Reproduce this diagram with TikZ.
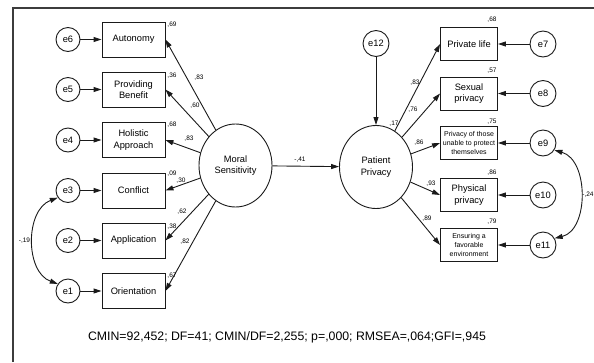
\documentclass[tikz,border=0pt]{standalone}
\usepackage{fontspec}
\setmainfont{Liberation Sans}
\usetikzlibrary{shapes.geometric,arrows.meta}
\definecolor{inkdark}{HTML}{1A1A1A}
\definecolor{framegray}{HTML}{3C3C3C}

\begin{document}
\begin{tikzpicture}[x=1pt,y=-1pt,
  obs/.style={draw=inkdark,line width=0.9pt,minimum width=63pt,minimum height=35pt,inner sep=1pt,align=center,font=\fontsize{9.3}{11.5}\selectfont},
  obsr/.style={obs,minimum width=57pt,minimum height=33pt},
  smalltxt/.style={font=\fontsize{7}{8.8}\selectfont},
  err/.style={draw=inkdark,line width=0.9pt,circle,minimum size=24pt,inner sep=0pt,font=\fontsize{9.3}{11}\selectfont},
  lat/.style={draw=inkdark,line width=0.9pt,ellipse,minimum width=73pt,minimum height=83pt,inner sep=0pt,align=center,font=\fontsize{9.3}{11.5}\selectfont},
  coef/.style={font=\fontsize{6.5}{7}\selectfont,inner sep=0pt},
  lnk/.style={draw=inkdark,line width=0.9pt,-{Triangle[length=8pt,width=5pt]}},
  cov/.style={draw=inkdark,line width=0.9pt,{Triangle[length=8pt,width=5pt]}-{Triangle[length=8pt,width=5pt]}}]
        \useasboundingbox(0,0)rectangle(594,362);
        \draw[framegray,line width=1.2pt](13,362)--(13,8)--(594,8);
        \node[obs](auto)at(133.5,39.5){Autonomy};
        \node[obs](benef)at(133.5,89.5){Providing\\Benefit};
        \node[obs](holis)at(133.5,140){Holistic\\Approach};
        \node[obs](confl)at(133.5,190.5){Conflict};
        \node[obs](appl)at(133.5,240.5){Application};
        \node[obs](orient)at(133.5,291){Orientation};
        \node[err](e6)at(68,39.5){e6};
        \node[err](e5)at(68,89.5){e5};
        \node[err](e4)at(68,140){e4};
        \node[err](e3)at(68,190.5){e3};
        \node[err](e2)at(68,240.5){e2};
        \node[err](e1)at(68,291){e1};
        \node[lat](ms)at(235.5,165.5){Moral\\Sensitivity};
        \node[lat](pp)at(376,167){Patient\\Privacy};
        \node[err,minimum size=26pt](e12)at(376,43.5){e12};
        \node[obsr](plife)at(469,44){Private life};
        \node[obsr](sexp)at(469,93.5){Sexual\\privacy};
        \node[obsr,smalltxt](unable)at(469,143){Privacy of those\\unable to protect\\themselves};
        \node[obsr](physp)at(469,195){Physical\\privacy};
        \node[obsr,smalltxt](envir)at(469,245){Ensuring a\\favorable\\environment};
        \node[err,minimum size=26pt](e7)at(543,44){e7};
        \node[err,minimum size=26pt](e8)at(543,93.5){e8};
        \node[err,minimum size=26pt](e9)at(543,143){e9};
        \node[err,minimum size=26pt](e10)at(543,195){e10};
        \node[err,minimum size=26pt](e11)at(543,245){e11};
        \draw[lnk](e6)--(auto);
        \draw[lnk](e5)--(benef);
        \draw[lnk](e4)--(holis);
        \draw[lnk](e3)--(confl);
        \draw[lnk](e2)--(appl);
        \draw[lnk](e1)--(orient);
        \draw[lnk](ms)--(auto.east);
        \draw[lnk](ms)--(benef.east);
        \draw[lnk](ms)--(holis.east);
        \draw[lnk](ms)--(confl.east);
        \draw[lnk](ms)--(appl.east);
        \draw[lnk](ms)--(orient.east);
        \draw[lnk](ms)--(pp);
        \draw[lnk](e12)--(pp);
        \draw[lnk](pp)--(plife.west);
        \draw[lnk](pp)--(sexp.west);
        \draw[lnk](pp)--(unable.west);
        \draw[lnk](pp)--(physp.west);
        \draw[lnk](pp)--(envir.west);
        \draw[lnk](e7)--(plife);
        \draw[lnk](e8)--(sexp);
        \draw[lnk](e9)--(unable);
        \draw[lnk](e10)--(physp);
        \draw[lnk](e11)--(envir);
        \draw[cov](e3.215)..controls(25,210)and(25,272)..(e1.145);
        \draw[cov](e9.328)..controls(589,160)and(589,230)..(e11.30);
        \node[coef](c19)at(24.5,241){-,19};
        \node[coef](c24)at(588,195){-,24};
        \node[coef](r1)at(172,25){,69};
        \node[coef](r2)at(172,76){,36};
        \node[coef](r3)at(172,125){,68};
        \node[coef](r4)at(172,174){,09};
        \node[coef](r5)at(172,227){,38};
        \node[coef](r6)at(172,276){,67};
        \node[coef](l1)at(199,78){,83};
        \node[coef](l2)at(195,106){,60};
        \node[coef](l3)at(189,139){,83};
        \node[coef](l4)at(181,180.5){,30};
        \node[coef](l5)at(182,212){,62};
        \node[coef](l6)at(185,242){,82};
        \node[coef](l41)at(300,160){-,41};
        \node[coef](r17)at(394,124){,17};
        \node[coef](l7)at(415,83){,83};
        \node[coef](l8)at(413,110){,76};
        \node[coef](l9)at(419,143){,86};
        \node[coef](l10)at(431,184){,93};
        \node[coef](l11)at(427,219){,89};
        \node[coef](r7)at(492,20){,68};
        \node[coef](r8)at(492,71){,57};
        \node[coef](r9)at(492,122){,75};
        \node[coef](r10)at(492,173){,86};
        \node[coef](r11)at(492,222){,79};
        \node[font=\fontsize{12.3}{14}\selectfont,inner sep=0pt](fit)at(287,337){CMIN=92,452; DF=41; CMIN/DF=2,255; p=,000; RMSEA=,064;GFI=,945};
      \end{tikzpicture}
\end{document}
